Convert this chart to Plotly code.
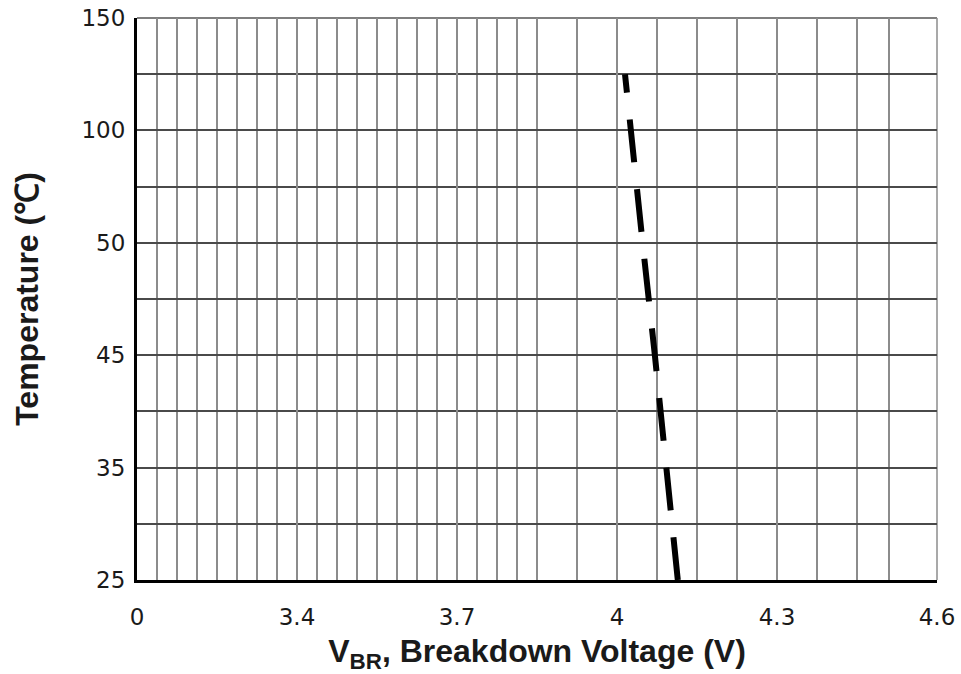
import numpy as np
import plotly.graph_objects as go

# Axis tick labels (the chart's axes are piecewise: equally spaced labels)
x_tick_labels = [0, 3.4, 3.7, 4, 4.3, 4.6]
y_tick_labels = [25, 35, 45, 50, 100, 150]

# Series: breakdown voltage vs temperature
temperature_c = [25, 35, 45, 50, 100, 125]
vbr_volts = [4.114, 4.093, 4.071, 4.048, 4.026, 4.015]

# piecewise-linear scale of this chart (label values -> equally spaced positions)
def x_scale(v):
    return np.interp(v, x_tick_labels, np.arange(len(x_tick_labels)))

def y_scale(v):
    return np.interp(v, y_tick_labels, np.arange(len(y_tick_labels)))

x_major = list(range(len(x_tick_labels)))
y_major = list(range(len(y_tick_labels)))
# grid positions (in axis position units)
x_grid = list(np.arange(0, 2.5, 0.125)) + list(np.arange(2.5, 4.5001, 0.25)) + [4.7, 5.0]
y_grid = list(np.arange(0, 5.0001, 0.5))

fig = go.Figure()
fig.add_trace(go.Scatter(
    x=x_scale(vbr_volts), y=y_scale(temperature_c),
    mode="lines",
    line=dict(color="black", width=6, dash="43px,27px"),
    showlegend=False, hoverinfo="skip",
))

title_font = "Liberation Sans, Arial, sans-serif"
tick_font = "DejaVu Sans, sans-serif"
fig.update_layout(
    width=961, height=674,
    margin=dict(l=137, r=24, t=18, b=94),
    paper_bgcolor="white", plot_bgcolor="white",
    font=dict(family=title_font, color="#1a1a1a"),
    xaxis=dict(
        range=[0, 5], tickmode="array", tickvals=x_major,
        ticktext=[str(v) for v in x_tick_labels],
        showgrid=True, gridcolor="#8c8c8c", gridwidth=1.5,
        minor=dict(tickmode="array", tickvals=x_grid, showgrid=True,
                   gridcolor="#8c8c8c", gridwidth=1.5, ticks=""),
        showline=True, linecolor="black", linewidth=3,
        ticks="", ticklabelstandoff=14, zeroline=False, automargin=False,
        tickfont=dict(size=23, family=tick_font, color="#1a1a1a"),
        title=dict(text="<b>V<sub>BR</sub>, Breakdown Voltage (V)</b>",
                   font=dict(size=32, family=title_font, color="#1a1a1a"),
                   standoff=15),
    ),
    yaxis=dict(
        range=[0, 5], tickmode="array", tickvals=y_major,
        ticktext=[str(v) for v in y_tick_labels],
        showgrid=True, gridcolor="#4a4a4a", gridwidth=1.5,
        minor=dict(tickmode="array", tickvals=y_grid, showgrid=True,
                   gridcolor="#4a4a4a", gridwidth=1.5, ticks=""),
        showline=True, linecolor="black", linewidth=3,
        ticks="", ticklabelstandoff=4, zeroline=False, automargin=False,
        tickfont=dict(size=23, family=tick_font, color="#1a1a1a"),
        title=dict(text="<b>Temperature (℃)</b>",
                   font=dict(size=32, family=title_font, color="#1a1a1a"),
                   standoff=34),
    ),
    shapes=[
        dict(type="line", xref="paper", yref="paper", x0=0, x1=1, y0=1, y1=1,
             line=dict(color="#555555", width=1.5), layer="below"),
        dict(type="line", xref="paper", yref="paper", x0=1, x1=1, y0=0, y1=1,
             line=dict(color="#8c8c8c", width=1.5), layer="below"),
    ],
)

fig.write_html("out.html", config={"displayModeBar": False},
               post_script="document.body.style.margin='0';")
